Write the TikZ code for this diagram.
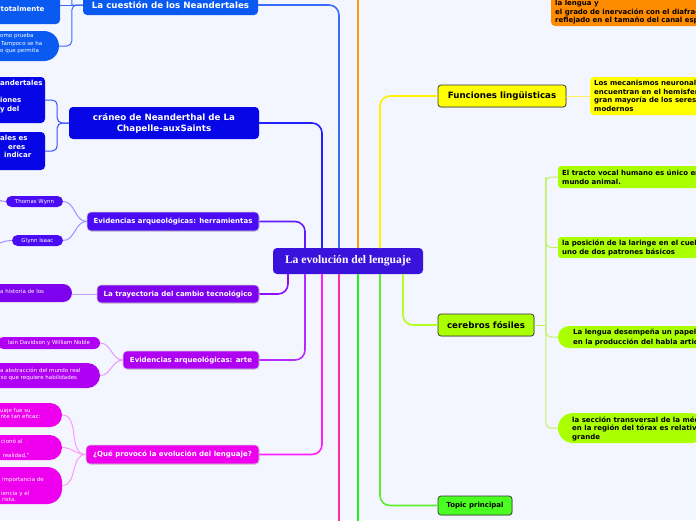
\documentclass[tikz,border=0pt]{standalone}
\usepackage{fontspec}
\setmainfont{DejaVu Sans}
\newfontfamily\serifb{Liberation Serif}
\usetikzlibrary{shadows}
\definecolor{bg}{HTML}{F3F6FE}
\definecolor{croot}{HTML}{3A12DC}
\definecolor{ccu}{HTML}{0A5AF2}
\definecolor{ccr}{HTML}{0606E6}
\definecolor{che}{HTML}{4A0CF4}
\definecolor{ctr}{HTML}{7E02EE}
\definecolor{car}{HTML}{B000F4}
\definecolor{cqp}{HTML}{EE00EE}
\definecolor{cor}{HTML}{FF8C00}
\definecolor{cye}{HTML}{FFFF00}
\definecolor{ccf}{HTML}{AAFF00}
\definecolor{ctp}{HTML}{4CFF22}
\definecolor{lcu}{HTML}{3A6CFF}
\definecolor{lcr}{HTML}{1F1FFF}
\definecolor{lhe}{HTML}{5E1EFF}
\definecolor{lor}{HTML}{FF9A10}
\definecolor{lye}{HTML}{FFF000}
\definecolor{ltr}{HTML}{8A10FF}
\definecolor{lar}{HTML}{B52AFF}
\definecolor{lqp}{HTML}{FF20FF}
\definecolor{lpk}{HTML}{FF2AB0}
\definecolor{lgr}{HTML}{20EE20}
\definecolor{ltp}{HTML}{5EEE30}
\definecolor{lcf}{HTML}{B4FF20}
\definecolor{kcu}{HTML}{3A6CFF}
\definecolor{kcr}{HTML}{3A50FF}
\definecolor{khe}{HTML}{A58CFF}
\definecolor{ktr}{HTML}{C79AFF}
\definecolor{kar}{HTML}{E59AFF}
\definecolor{kqp}{HTML}{FF99FF}
\definecolor{kcf}{HTML}{C4F060}
\definecolor{kye}{HTML}{FFF25A}
\begin{document}
\begin{tikzpicture}[x=1pt,y=-1pt,
  bx/.style={rounded corners=4pt, inner sep=0pt, align=center, text=white,
    font=\bfseries\fontsize{8.7}{11}\selectfont},
  sbx/.style={bx, font=\bfseries\fontsize{7}{9}\selectfont, draw=black!18, line width=0.6pt,
    drop shadow={opacity=0.2, shadow xshift=0.8pt, shadow yshift=-0.8pt}},
  ybx/.style={bx, text=black, draw=black!80, line width=0.7pt,
    drop shadow={opacity=0.25, shadow xshift=0.8pt, shadow yshift=-0.8pt}},
  kid/.style={inner sep=0pt},
  wb/.style={anchor=base west, inner sep=0pt, text=white, font=\bfseries\fontsize{7}{9}\selectfont},
  wr/.style={anchor=base west, inner sep=0pt, text=white, font=\fontsize{5.5}{7}\selectfont},
  kb/.style={anchor=base west, inner sep=0pt, text=black, font=\bfseries\fontsize{7}{9}\selectfont},
  trunk/.style={line width=1.6pt, rounded corners=10pt},
  link/.style={line width=1pt},
]
\useasboundingbox (0,0) rectangle (696,520);
\clip (0,0) rectangle (696,520);
\fill[bg] (0,0) rectangle (696,520);

% ---------- root
\node[bx, fill=croot, minimum width=150pt, minimum height=26pt,
  font=\serifb\bfseries\fontsize{11.6}{13}\selectfont] (root) at (348,261) {La evolución del lenguaje};

% ---------- left branch nodes
\node[bx, fill=ccu, minimum width=175pt, minimum height=20pt] (n1) at (170.5,5) {La cuestión de los Neandertales};
\node[bx, fill=ccr, minimum width=190pt, minimum height=32pt] (n2) at (164,123) {cráneo de Neanderthal de La\\Chapelle-auxSaints};
\node[sbx, fill=che, minimum width=172pt, minimum height=19pt] (n3) at (173,221.5) {Evidencias arqueológicas: herramientas};
\node[sbx, fill=ctr, minimum width=162pt, minimum height=18pt] (n4) at (178,294) {La trayectoria del cambio tecnológico};
\node[sbx, fill=car, minimum width=136pt, minimum height=18pt] (n5) at (191,360) {Evidencias arqueológicas: arte};
\node[sbx, fill=cqp, minimum width=173pt, minimum height=19pt] (n6) at (172.5,454.5) {¿Qué provocó la evolución del lenguaje?};

% ---------- right branch nodes
\node[ybx, fill=cye, minimum width=128pt, minimum height=22pt, rounded corners=3pt] (F) at (502,96) {Funciones lingüisticas};
\node[ybx, fill=ccf, minimum width=96pt, minimum height=22pt, rounded corners=3pt] (C) at (486,325) {cerebros fósiles};
\node[ybx, fill=ctp, minimum width=74pt, minimum height=19pt, rounded corners=3pt,
  font=\bfseries\fontsize{7}{9}\selectfont] (T) at (475,505.5) {Topic principal};

% ---------- left children
\node[kid, fill=ccu, rounded corners=4pt, minimum width=70pt, minimum height=38pt] (c1) at (25,5) {};
\node[wb] (c1a) at (0.5,11.5) {totalmente};
\node[kid, fill=ccu, rounded corners=15pt, minimum width=79pt, minimum height=30pt] (c2) at (19.5,46) {};
\node[wr] (c2a) at (0,37) {omo prueba};
\node[wr] (c2b) at (1,45) {Tampoco se ha};
\node[wr] (c2c) at (0,52) {o que permita};

\node[kid, fill=ccr, rounded corners=4pt, minimum width=55pt, minimum height=46pt] (c3) at (17.5,100) {};
\node[wb] (c3a) at (0,85.5) {andertales};
\node[wb] (c3b) at (0,102.5) {iones};
\node[wb] (c3c) at (0,111.5) {y del};
\node[kid, fill=ccr, rounded corners=4pt, minimum width=55pt, minimum height=38pt] (c4) at (17.5,151) {};
\node[wb] (c4a) at (0,140.5) {ales es};
\node[wb] (c4b) at (8,149.5) {eres};
\node[wb] (c4c) at (4,157.5) {indicar};

\node[kid, fill=che, rounded corners=5.5pt, minimum width=57pt, minimum height=11pt,
  text=white, font=\fontsize{5.5}{7}\selectfont] (c5) at (34.5,201.5) {Thomas Wynn};
\node[kid, fill=che, rounded corners=5.5pt, minimum width=51pt, minimum height=11pt,
  text=white, font=\fontsize{5.5}{7}\selectfont] (c6) at (37.5,240.5) {Glynn Isaac};
\coordinate (o5) at (-20,192);
\coordinate (o6) at (-22,250);

\node[kid, fill=ctr, rounded corners=9pt, minimum width=92pt, minimum height=18pt] (c7) at (26,293) {};
\node[wr] (c7a) at (0,293) {a historia de los};

\node[kid, fill=car, rounded corners=6pt, minimum width=102pt, minimum height=12pt,
  text=white, font=\fontsize{5.5}{7}\selectfont] (c8) at (49,343) {Iain Davidson y William Noble};
\node[kid, fill=car, rounded corners=12.5pt, minimum width=120pt, minimum height=25pt] (c9) at (40,375.5) {};
\node[wr] (c9a) at (0,372) {a abstracción del mundo real};
\node[wr] (c9b) at (0.5,379) {so que requiere habilidades};

\node[kid, fill=cqp, rounded corners=12pt, minimum width=82pt, minimum height=24pt] (c10) at (21,415) {};
\node[wr] (c10a) at (0,412) {uaje fue su};
\node[wr] (c10b) at (0.5,418.5) {nte tan eficaz:};
\node[kid, fill=cqp, rounded corners=12.5pt, minimum width=82pt, minimum height=25pt] (c11) at (21,447.5) {};
\node[wr] (c11a) at (1,443) {cionó al};
\node[wr] (c11b) at (2.5,457) {realidad,”};
\node[kid, fill=cqp, rounded corners=15pt, minimum width=82pt, minimum height=37pt] (c12) at (21,485.5) {};
\node[wr] (c12a) at (2,481) {importancia de};
\node[wr] (c12b) at (1,495) {iencia y el};
\node[wr] (c12c) at (2,501) {rista.};

% ---------- right children
\node[kid, fill=cor, rounded corners=4pt, minimum width=155pt, minimum height=36pt] (O) at (628.5,8) {};
\node[kb] (Oa) at (555,5.5) {la lengua y};
\node[kb] (Ob) at (555,14) {el grado de inervación con el diafrag};
\node[kb] (Oc) at (555,22.5) {reflejado en el tamaño del canal esp};

\node[kid, fill=cye, rounded corners=4pt, minimum width=116pt, minimum height=38pt] (Y1) at (648,96) {};
\node[kb] (Y1a) at (594,85.5) {Los mecanismos neuronal};
\node[kb] (Y1b) at (594,94) {encuentran en el hemisfer};
\node[kb] (Y1c) at (594,102.5) {gran mayoría de los seres};
\node[kb] (Y1d) at (594,111.5) {modernos};

\node[kid, fill=ccf, rounded corners=3pt, minimum width=148pt, minimum height=22pt] (g1) at (632,177) {};
\node[kb] (g1a) at (562,175.5) {El tracto vocal humano es único en};
\node[kb] (g1b) at (562,184.5) {mundo animal.};
\node[kid, fill=ccf, rounded corners=3pt, minimum width=148pt, minimum height=21pt] (g2) at (632,247.5) {};
\node[kb] (g2a) at (562,245.5) {la posición de la laringe en el cuell};
\node[kb] (g2b) at (562,254.5) {uno de dos patrones básicos};
\node[kid, fill=ccf, rounded corners=11pt, minimum width=148pt, minimum height=22pt] (g3) at (632,337) {};
\node[kb] (g3a) at (573,334.5) {La lengua desempeña un papel};
\node[kb] (g3b) at (573,344.5) {en la producción del habla artic};
\node[kid, fill=ccf, rounded corners=15pt, minimum width=148pt, minimum height=30pt] (g4) at (632,428) {};
\node[kb] (g4a) at (572,422.5) {la sección transversal de la méd};
\node[kb] (g4b) at (572,430.5) {en la región del tórax es relativ};
\node[kb] (g4c) at (572,439.5) {grande};

% ---------- trunk coordinates
\coordinate (t339) at (339,248);
\coordinate (t322) at (322,248);
\coordinate (t305) at (305,248);
\coordinate (t358) at (358,248);
\coordinate (t380) at (380,248);
\coordinate (u358) at (358,-5);
\coordinate (b288) at (288,274);
\coordinate (b305) at (305,274);
\coordinate (b322) at (322,274);
\coordinate (b339) at (339,274);
\coordinate (b358) at (358,274);
\coordinate (b380) at (380,274);
\coordinate (b403) at (403,274);
\coordinate (e339) at (339,525);
\coordinate (e358) at (358,525);
\coordinate (up1) at (72,-20);

% ---------- trunks
\draw[trunk, lcu] (n1.east) -| (t339);
\draw[trunk, lcr] (n2.east) -| (t322);
\draw[trunk, lhe] (n3.east) -| (t305);
\draw[trunk, lor] (t358) -- (u358);
\draw[trunk, lye] (F.west) -| (t380);
\draw[trunk, ltr] (n4.east) -| (b288);
\draw[trunk, lar] (n5.east) -| (b305);
\draw[trunk, lqp] (n6.east) -| (b322);
\draw[trunk, lpk] (b339) -- (e339);
\draw[trunk, lgr] (b358) -- (e358);
\draw[trunk, ltp] (T.west) -| (b380);
\draw[trunk, lcf] (C.west) -| (b403);

% ---------- child links, left
\draw[link, kcu] (n1.west) -- (c1.east);
\draw[link, kcu, rounded corners=5pt] (n1.west) -- ++(-11,0) |- (c2.east);
\draw[link, kcu] (n1.west) -- ++(-11,0) -- (up1);
\draw[link, kcr, rounded corners=5pt] (c3.east) -- ++(12,0) |- (n2.west);
\draw[link, kcr, rounded corners=5pt] (c4.east) -- ++(12,0) |- (n2.west);
\draw[link, khe] (n3.west) to[out=180,in=0] (c5.east);
\draw[link, khe] (n3.west) to[out=180,in=0] (c6.east);
\draw[link, khe] (c5.west) to[out=180,in=0] (o5);
\draw[link, khe] (c6.west) to[out=180,in=0] (o6);
\draw[link, ktr] (n4.west) -- (c7.east |- n4.west);
\draw[link, kar] (n5.west) to[out=180,in=0] (c8.east);
\draw[link, kar] (n5.west) to[out=180,in=0] (c9.east);
\draw[link, kqp] (n6.west) to[out=180,in=0] (c10.east);
\draw[link, kqp] (n6.west) to[out=180,in=0] (c11.east);
\draw[link, kqp] (n6.west) to[out=180,in=0] (c12.east);

% ---------- child links, right
\draw[link, kye] (F.east) -- (Y1.west);
\draw[link, kcf] (C.east) -- ++(12,0);
\draw[link, kcf, rounded corners=5pt] (g1.west) -- ++(-12,0) |- (g4.west);
\draw[link, kcf, rounded corners=5pt] (g1.west) ++(-12,0) |- (g2.west);
\draw[link, kcf, rounded corners=5pt] (g1.west) ++(-12,0) |- (g3.west);
\end{tikzpicture}
\end{document}
